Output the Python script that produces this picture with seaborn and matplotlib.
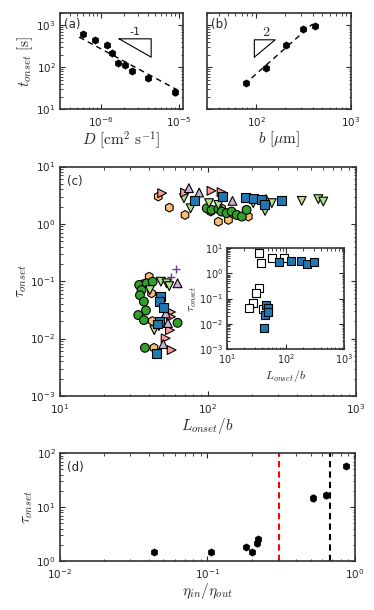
import numpy as np
import pandas as pd
import seaborn as sns
import matplotlib.pyplot as plt

# (a) onset time against diffusion coefficient
D_vals = [5.9e-7, 8.6e-7, 1.2e-6, 1.42e-6, 1.65e-6, 2.06e-6, 2.55e-6, 4.1e-6, 8.95e-6]
t_D = [635, 443, 346, 224, 125, 115, 83, 55, 26]
t_D_err = [25, 20, 15, 12, 8, 7, 5, 4, 4]

# (b) onset time against gap b
b_vals = [77, 127, 207, 314, 415]
t_b = [42, 98, 346, 836, 963]
t_b_err = [3, 5, 15, 40, 50]

# (c) tau_onset against L_onset/b, one list pair per data set
hex_x = [46.3, 55.0, 70.2, 104.7, 124, 118, 138, 183, 188, 40.2, 36.3, 41.7, 43.3, 42.2]
hex_y = [3.0, 1.92, 1.43, 1.64, 1.87, 1.09, 1.17, 1.75, 1.34, 0.12, 0.089, 0.0615, 0.0069, 0.0202]
circ_x = [98.4, 106, 118, 124, 134, 145, 157, 170, 183,
          34.4, 38.6, 42.4, 35.7, 34.8, 37.0, 38.2, 33.9, 37.0, 62.5, 37.6]
circ_y = [1.87, 1.75, 1.82, 1.64, 1.54, 1.64, 1.43, 1.34, 1.75,
          0.086, 0.092, 0.098, 0.070, 0.057, 0.044, 0.031, 0.0257, 0.021, 0.0188, 0.0069]
tdown_x = [69.0, 76.6, 102, 118, 203, 244, 271, 432, 559, 604,
           48.2, 52.7, 54.9, 40.6, 43.5, 46.8]
tdown_y = [2.81, 1.87, 2.30, 2.14, 2.30, 1.68, 2.30, 2.52, 2.70, 2.45,
           0.098, 0.092, 0.082, 0.070, 0.014, 0.0165]
tright_x = [49.2, 70.2, 106, 124, 56.4, 56.4, 55.5, 51.9, 57.0]
tright_y = [3.43, 3.51, 3.77, 3.57, 0.029, 0.024, 0.014, 0.0101, 0.0063]
tup_x = [74.6, 87.5, 147, 248, 62.5, 52.1, 53.8, 50.0]
tup_y = [4.2, 3.51, 2.52, 2.70, 0.092, 0.0275, 0.0186, 0.008]
sq_x = [81.1, 126, 181, 203, 232, 241, 316, 48.2, 46.9, 50.0, 46.9, 45.8, 45.1]
sq_y = [2.55, 2.99, 2.88, 2.81, 2.62, 2.20, 2.52, 0.0536, 0.0438, 0.035, 0.0196, 0.0179, 0.0055]
plus_x = [60.7, 56.1]
plus_y = [0.163, 0.12]

# (c) inset
open_x = [35.0, 38.3, 58.2, 95.5, 35.0, 31.5, 28.3, 23.7, 41.9]
open_y = [6.3, 2.68, 4.2, 4.2, 0.26, 0.173, 0.069, 0.042, 0.038]
fill_x = [78.5, 126, 184, 232, 309, 46.6, 49.7, 45.3, 50.1, 43.5]
fill_y = [2.78, 3.13, 3.13, 2.38, 2.78, 0.056, 0.042, 0.0225, 0.0295, 0.0067]

# (d) tau_onset against viscosity ratio
visc_ratio = [0.0434, 0.106, 0.182, 0.202, 0.218, 0.219, 0.516, 0.635, 0.865]
tau_visc = [1.45, 1.45, 1.8, 1.49, 2.13, 2.63, 15.1, 16.5, 57]
tau_visc_err = [0.05, 0.05, 0.08, 0.05, 0.25, 0.15, 2.0, 1.5, 3.0]
ratio_red = 0.304
ratio_black = 0.678

sns.set_style("ticks", {"xtick.direction": "in", "ytick.direction": "in",
                        "axes.edgecolor": "0.2"})
plt.rcParams["font.family"] = ["DejaVu Sans"]
plt.rcParams["mathtext.fontset"] = "cm"
plt.rcParams["xtick.top"] = True
plt.rcParams["ytick.right"] = True
plt.rcParams["xtick.labelsize"] = 7.5
plt.rcParams["ytick.labelsize"] = 7.5
plt.rcParams["xtick.major.size"] = 3.5
plt.rcParams["ytick.major.size"] = 3.5
plt.rcParams["xtick.minor.size"] = 1.8
plt.rcParams["ytick.minor.size"] = 1.8
plt.rcParams["xtick.major.pad"] = 4.5
plt.rcParams["ytick.major.pad"] = 3
plt.rcParams["axes.linewidth"] = 1.2

fig = plt.figure(figsize=(3.74, 6.10), dpi=100)
ax_a = fig.add_axes([0.160, 0.821, 0.330, 0.158])
ax_b = fig.add_axes([0.553, 0.821, 0.385, 0.158])
ax_c = fig.add_axes([0.160, 0.351, 0.791, 0.376])
ax_in = fig.add_axes([0.606, 0.428, 0.315, 0.165])
ax_d = fig.add_axes([0.160, 0.080, 0.789, 0.177])

for ax in [ax_a, ax_b, ax_c, ax_in, ax_d]:
    ax.set_xscale("log")
    ax.set_yscale("log")

# --- (a) ---
ax_a.errorbar(D_vals, t_D, yerr=t_D_err, fmt="none", ecolor="k", elinewidth=1, capsize=1.5)
sns.scatterplot(x=D_vals, y=t_D, marker="h", color="k", s=28, edgecolor="k", ax=ax_a, zorder=3)
c_a = np.mean(np.log10(t_D) + np.log10(D_vals))
xa = np.array([min(D_vals) * 0.9, max(D_vals) * 1.05])
ax_a.plot(xa, 10**c_a / xa, "k--", lw=1, dashes=(4, 3))
ax_a.plot([0.48, 0.74, 0.74, 0.48], [0.73, 0.73, 0.54, 0.73], transform=ax_a.transAxes, color="k", lw=0.8)
ax_a.text(0.61, 0.80, "-1", transform=ax_a.transAxes, fontsize=8, ha="center", va="center")
ax_a.text(0.03, 0.95, "(a)", transform=ax_a.transAxes, fontsize=8.5, ha="left", va="top")
ax_a.set_xlim(3e-7, 1.15e-5)
ax_a.set_ylim(10, 2000)
ax_a.set_xlabel(r"$D\ [\mathrm{cm}^2\ \mathrm{s}^{-1}]$", fontsize=11, labelpad=0)
ax_a.set_ylabel(r"$t_{onset}\ [\mathrm{s}]$", fontsize=11, labelpad=1)

# --- (b) ---
ax_b.errorbar(b_vals, t_b, yerr=t_b_err, fmt="none", ecolor="k", elinewidth=1, capsize=1.5)
sns.scatterplot(x=b_vals, y=t_b, marker="h", color="k", s=28, edgecolor="k", ax=ax_b, zorder=3)
c_b = np.mean(np.log10(t_b) - 2 * np.log10(b_vals))
xb = np.array([min(b_vals) * 0.97, max(b_vals) * 0.95])
ax_b.plot(xb, 10**c_b * xb**2, "k--", lw=1, dashes=(4, 3))
ax_b.plot([0.33, 0.33, 0.475, 0.33], [0.54, 0.72, 0.72, 0.54], transform=ax_b.transAxes, color="k", lw=0.8)
ax_b.text(0.41, 0.80, r"$2$", transform=ax_b.transAxes, fontsize=10, ha="center", va="center")
ax_b.text(0.03, 0.95, "(b)", transform=ax_b.transAxes, fontsize=8.5, ha="left", va="top")
ax_b.set_xlim(30, 1000)
ax_b.set_ylim(10, 2000)
ax_b.tick_params(axis="y", labelleft=False)
ax_b.set_xlabel(r"$b\ [\mu\mathrm{m}]$", fontsize=11, labelpad=0)

# --- (c) ---
groups = [("hex", hex_x, hex_y), ("circ", circ_x, circ_y), ("tdown", tdown_x, tdown_y),
          ("tright", tright_x, tright_y), ("tup", tup_x, tup_y), ("sq", sq_x, sq_y)]
df_c = pd.concat([pd.DataFrame({"L": gx, "tau": gy, "set": name}) for name, gx, gy in groups],
                 ignore_index=True)
palette = {"hex": "#fdbf6f", "circ": "#33a02c", "tdown": "#b2df8a", "tright": "#fb9a99",
           "tup": "#cab2d6", "sq": "#1f78b4"}
markers = {"hex": "h", "circ": "o", "tdown": "v", "tright": ">", "tup": "^", "sq": "s"}
sns.scatterplot(data=df_c, x="L", y="tau", hue="set", style="set",
                palette=palette, markers=markers, s=40, edgecolor="k", linewidth=0.8,
                legend=False, ax=ax_c, zorder=3)
ax_c.scatter(plus_x, plus_y, marker="+", color="#6a3d9a", s=40, linewidths=1, zorder=3)
ax_c.text(0.025, 0.965, "(c)", transform=ax_c.transAxes, fontsize=8.5, ha="left", va="top")
ax_c.set_xlim(10, 1000)
ax_c.set_ylim(1e-3, 10)
ax_c.set_xlabel(r"$L_{onset}/b$", fontsize=11, labelpad=0)
ax_c.set_ylabel(r"$\tau_{onset}$", fontsize=11, labelpad=1)

# inset
sns.scatterplot(x=open_x, y=open_y, marker="s", color="white", edgecolor="k", linewidth=0.8,
                s=40, ax=ax_in, zorder=3)
sns.scatterplot(x=fill_x, y=fill_y, marker="s", color="#1f78b4", edgecolor="k", linewidth=0.8,
                s=40, ax=ax_in, zorder=3)
ax_in.set_xlim(10, 1000)
ax_in.set_ylim(1e-3, 10)
ax_in.tick_params(labelsize=7, pad=2.5)
ax_in.set_xlabel(r"$L_{onset}/b$", fontsize=8.5, labelpad=1)
ax_in.set_ylabel(r"$\tau_{onset}$", fontsize=8.5, labelpad=0)

# --- (d) ---
ax_d.errorbar(visc_ratio, tau_visc, yerr=tau_visc_err, fmt="none", ecolor="k", elinewidth=1, capsize=1.5)
sns.scatterplot(x=visc_ratio, y=tau_visc, marker="h", color="k", s=28, edgecolor="k", ax=ax_d, zorder=3)
ax_d.axvline(ratio_red, color="red", ls="--", lw=1.5, dashes=(3, 2))
ax_d.axvline(ratio_black, color="k", ls="--", lw=1.5, dashes=(3, 2))
ax_d.text(0.025, 0.93, "(d)", transform=ax_d.transAxes, fontsize=8.5, ha="left", va="top")
ax_d.set_xlim(1e-2, 1)
ax_d.set_ylim(1, 100)
ax_d.set_xlabel(r"$\eta_{in}/\eta_{out}$", fontsize=11, labelpad=0)
ax_d.set_ylabel(r"$\tau_{onset}$", fontsize=11, labelpad=1)

for ax in [ax_a, ax_b, ax_c, ax_in, ax_d]:
    ax.tick_params(which="both", top=True, right=True, direction="in")

fig.savefig("out.png", dpi=100)
